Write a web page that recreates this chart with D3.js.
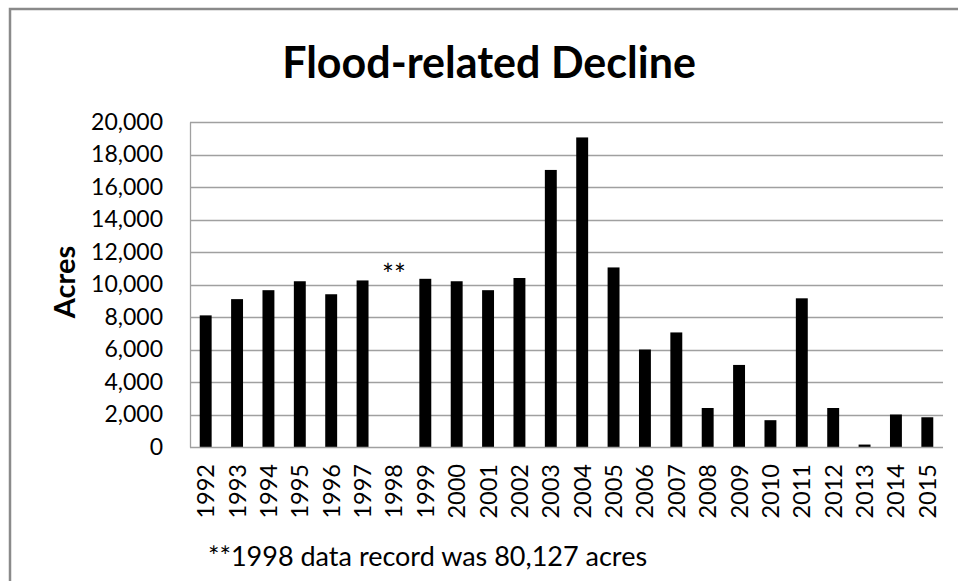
<!DOCTYPE html>
<html>
<head>
<meta charset="utf-8">
<script src="https://cdn.jsdelivr.net/npm/d3@7"></script>
<style>
  html, body { margin: 0; padding: 0; background: #fff; }
  svg { display: block; }
  text { font-family: Lato, "Open Sans", sans-serif; fill: #000; }
</style>
</head>
<body>
<svg id="chart" width="958" height="581"></svg>
<script>
// ---- data ----
const years = ["1992","1993","1994","1995","1996","1997","1998","1999","2000","2001","2002","2003",
               "2004","2005","2006","2007","2008","2009","2010","2011","2012","2013","2014","2015"];
const acres = [8100, 9100, 9650, 10200, 9400, 10250, null, 10350, 10200, 9650, 10400, 17050,
               19050, 11050, 6000, 7050, 2400, 5050, 1650, 9150, 2400, 150, 2000, 1830];
const yTicks = [0, 2000, 4000, 6000, 8000, 10000, 12000, 14000, 16000, 18000, 20000];
const annotationYear = "1998";
const annotationText = "**";
const annotationValue = 10900;
const titleText = "Flood-related Decline";
const yLabel = "Acres";
const footnote = "**1998 data record was 80,127 acres";

// ---- layout ----
const svg = d3.select("#chart");
const plot = { left: 190, right: 943, top: 122, bottom: 447 };

// frame
svg.append("path")
  .attr("d", `M10,${581 + 5} L10,9 L${958 + 5},9`)
  .attr("fill", "none")
  .attr("stroke", "#8a8a8a")
  .attr("stroke-width", 2.5);

const x = d3.scaleBand().domain(years).range([plot.left, plot.right]).paddingInner(0.62).paddingOuter(0.31);
const y = d3.scaleLinear().domain([0, 20000]).range([plot.bottom, plot.top]);

// gridlines
svg.append("g").selectAll("line").data(yTicks.filter(d => d > 0)).join("line")
  .attr("x1", plot.left).attr("x2", plot.right)
  .attr("y1", d => Math.round(y(d)) + 0.5).attr("y2", d => Math.round(y(d)) + 0.5)
  .attr("stroke", "#a0a0a0").attr("stroke-width", 1.3);

// bars
svg.append("g").selectAll("rect").data(years.map((yr, i) => ({ yr, v: acres[i] })).filter(d => d.v != null))
  .join("rect")
  .attr("x", d => x(d.yr))
  .attr("width", x.bandwidth())
  .attr("y", d => y(d.v))
  .attr("height", d => y(0) - y(d.v))
  .attr("fill", "#000");

// y axis
const yAxis = svg.append("g")
  .attr("transform", `translate(${plot.left},0)`)
  .call(d3.axisLeft(y).tickValues(yTicks).tickFormat(d3.format(",")).tickSize(0).tickPadding(27));
yAxis.select(".domain").attr("stroke", "#a0a0a0").attr("stroke-width", 1.3);
yAxis.selectAll("text").style("font-size", "23px").attr("fill", "#1a1a1a").attr("font-family", "Lato, sans-serif");

// x axis
const xAxis = svg.append("g")
  .attr("transform", `translate(0,${plot.bottom})`)
  .call(d3.axisBottom(x).tickSize(0).tickPadding(0));
xAxis.select(".domain").attr("d", `M${plot.left},0.5H${plot.right}`).attr("stroke", "#a0a0a0").attr("stroke-width", 1.3);
xAxis.selectAll("text")
  .style("font-size", "23.5px").attr("fill", "#1a1a1a").attr("font-family", "Lato, sans-serif")
  .attr("transform", "rotate(-90)")
  .attr("text-anchor", "end")
  .attr("x", -17).attr("y", 0).attr("dy", "0.36em");

// annotation
svg.append("text")
  .attr("x", x(annotationYear) + x.bandwidth() / 2)
  .attr("y", y(annotationValue))
  .attr("dy", "0.55em")
  .attr("text-anchor", "middle")
  .style("font-size", "28px")
  .attr("fill", "#333")
  .text(annotationText);

// title
svg.append("text")
  .attr("x", 489).attr("y", 78)
  .attr("text-anchor", "middle")
  .style("font-size", "43px").style("font-weight", "bold")
  .text(titleText);

// y label
svg.append("text")
  .attr("transform", `translate(75,282) rotate(-90)`)
  .attr("text-anchor", "middle")
  .style("font-size", "29px").style("font-weight", "bold")
  .text(yLabel);

// footnote
svg.append("text")
  .attr("x", 208).attr("y", 566)
  .style("font-size", "27px")
  .attr("fill", "#1a1a1a")
  .text(footnote);
</script>
</body>
</html>
